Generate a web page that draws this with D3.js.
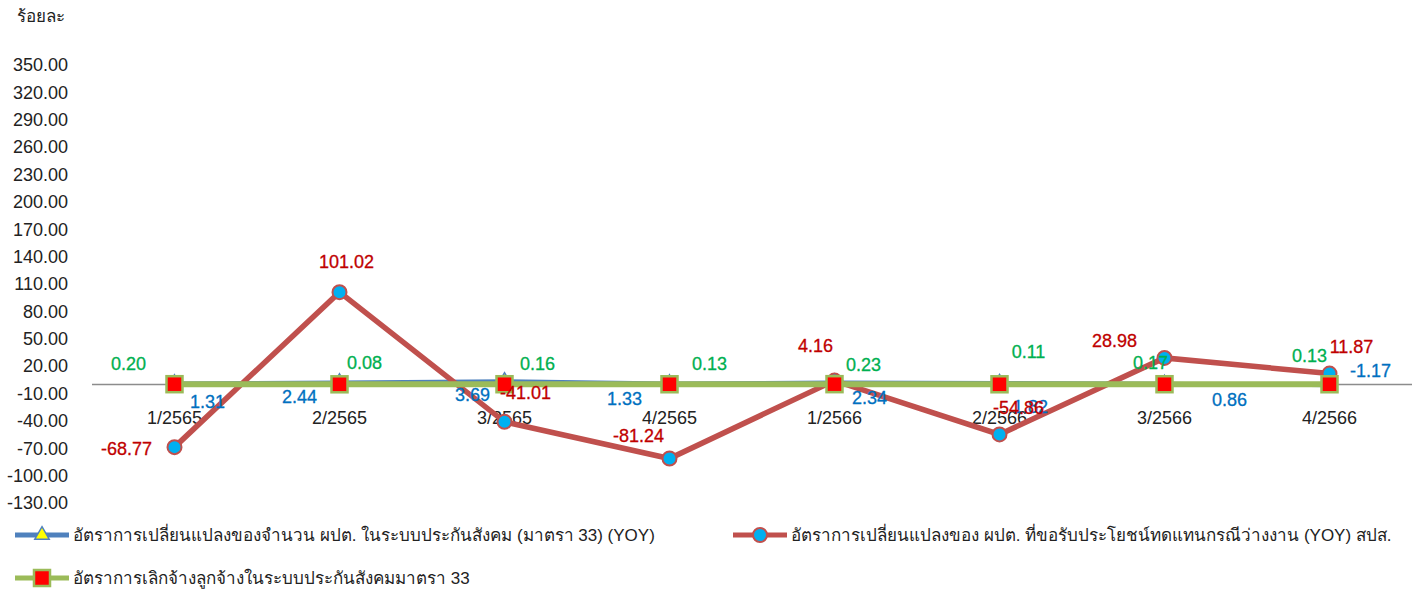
<!DOCTYPE html>
<html>
<head>
<meta charset="utf-8">
<script src="https://cdn.jsdelivr.net/npm/d3@7"></script>
<style>
  body { margin: 0; background: #fff; }
  svg { font-family: "Liberation Sans", "Noto Sans", sans-serif; }
</style>
</head>
<body>
<svg id="chart" width="1417" height="591"></svg>
<script>
// quarters
var categories = ["1/2565", "2/2565", "3/2565", "4/2565", "1/2566", "2/2566", "3/2566", "4/2566"];
// employment in SSO (section 33) YOY
var employed = [1.31, 2.44, 3.69, 1.33, 2.34, 1.82, 0.86, -1.17];
// unemployment benefit claimants YOY
var claimants = [-68.77, 101.02, -41.01, -81.24, 4.16, -54.86, 28.98, 11.87];
// lay-off rate, section 33
var layoffs = [0.20, 0.08, 0.16, 0.13, 0.23, 0.11, 0.17, 0.13];
var yTicks = [350, 320, 290, 260, 230, 200, 170, 140, 110, 80, 50, 20, -10, -40, -70, -100, -130];

var seriesNames = [
    "อัตราการเปลี่ยนแปลงของจำนวน ผปต. ในระบบประกันสังคม (มาตรา 33) (YOY)",
    "อัตราการเปลี่ยนแปลงของ ผปต. ที่ขอรับประโยชน์ทดแทนกรณีว่างงาน (YOY) สปส.",
    "อัตราการเลิกจ้างลูกจ้างในระบบประกันสังคมมาตรา 33"
];

// label offsets (dx, dy) relative to each point, as placed in the original
var employedOff = [[33, 19], [-40, 15], [-32, 14], [-45, 16], [35, 15], [31, 24], [65, 16], [41, -15]];
var claimantsOff = [[-48, 2], [7, -30], [21, -29], [-31, -23], [-19, -35], [19, -27], [-50, -17], [22, -27]];
var layoffsOff = [[-46, -20], [25, -22], [33, -21], [40, -21], [29, -19], [29, -33], [-14, -22], [-20, -29]];

var svg = d3.select("#chart");

var x = d3.scaleBand().domain(categories).range([92, 1412]);
var y = d3.scaleLinear().domain([-130, 350]).range([503, 65]);
var cx = function (i) { return x(categories[i]) + x.bandwidth() / 2; };

// y tick labels
svg.append("g").selectAll("text")
    .data(yTicks)
    .enter().append("text")
    .attr("x", 68)
    .attr("y", function (d) { return y(d); })
    .attr("dy", "0.35em")
    .attr("text-anchor", "end")
    .attr("font-size", 18)
    .attr("fill", "#222")
    .text(function (d) { return d.toFixed(2); });

svg.append("text")
    .attr("x", 17).attr("y", 22)
    .attr("font-size", 17).attr("fill", "#222")
    .text("ร้อยละ");

// zero line
svg.append("line")
    .attr("x1", 92).attr("x2", 1412)
    .attr("y1", y(0)).attr("y2", y(0))
    .attr("stroke", "#8c8c8c").attr("stroke-width", 1.5);

// category labels
svg.append("g").selectAll("text")
    .data(categories)
    .enter().append("text")
    .attr("x", function (d, i) { return cx(i); })
    .attr("y", y(0) + 40)
    .attr("text-anchor", "middle")
    .attr("font-size", 18)
    .attr("fill", "#222")
    .text(function (d) { return d; });

var line = d3.line()
    .x(function (d, i) { return cx(i); })
    .y(function (d) { return y(d); });

var tri = d3.symbol().type(d3.symbolTriangle).size(90);

// blue series
svg.append("path").datum(employed)
    .attr("d", line).attr("fill", "none")
    .attr("stroke", "#4f81bd").attr("stroke-width", 3.5);
svg.append("g").selectAll("path")
    .data(employed)
    .enter().append("path")
    .attr("d", tri)
    .attr("transform", function (d, i) { return "translate(" + cx(i) + "," + y(d) + ")"; })
    .attr("fill", "#ffff00").attr("stroke", "#4f81bd").attr("stroke-width", 1.5);

// red series
svg.append("path").datum(claimants)
    .attr("d", line).attr("fill", "none")
    .attr("stroke", "#c0504d").attr("stroke-width", 5.5);
svg.append("g").selectAll("circle")
    .data(claimants)
    .enter().append("circle")
    .attr("cx", function (d, i) { return cx(i); })
    .attr("cy", function (d) { return y(d); })
    .attr("r", 7)
    .attr("fill", "#00b0f0").attr("stroke", "#c0504d").attr("stroke-width", 2);

// green series
svg.append("path").datum(layoffs)
    .attr("d", line).attr("fill", "none")
    .attr("stroke", "#9bbb59").attr("stroke-width", 6);
svg.append("g").selectAll("rect")
    .data(layoffs)
    .enter().append("rect")
    .attr("x", function (d, i) { return cx(i) - 8; })
    .attr("y", function (d) { return y(d) - 8; })
    .attr("width", 16).attr("height", 16)
    .attr("fill", "#ff0000").attr("stroke", "#9bbb59").attr("stroke-width", 2.5);

// data labels
function labels(data, off, color) {
    svg.append("g").selectAll("text")
        .data(data)
        .enter().append("text")
        .attr("x", function (d, i) { return cx(i) + off[i][0]; })
        .attr("y", function (d, i) { return y(d) + off[i][1]; })
        .attr("dy", "0.35em")
        .attr("text-anchor", "middle")
        .attr("font-size", 18)
        .attr("fill", color)
        .attr("stroke", color)
        .attr("stroke-width", 0.3)
        .text(function (d) { return d.toFixed(2); });
}
labels(employed, employedOff, "#0070c0");
labels(claimants, claimantsOff, "#c00000");
labels(layoffs, layoffsOff, "#00b050");

// legend
var legend = [
    { name: seriesNames[0], x: 15, y: 535, color: "#4f81bd", mark: "tri" },
    { name: seriesNames[1], x: 733, y: 535, color: "#c0504d", mark: "circle" },
    { name: seriesNames[2], x: 15, y: 578, color: "#9bbb59", mark: "rect" }
];
var lg = svg.append("g").selectAll("g")
    .data(legend)
    .enter().append("g")
    .attr("transform", function (d) { return "translate(" + d.x + "," + d.y + ")"; });
lg.append("line")
    .attr("x1", 0).attr("x2", 54)
    .attr("stroke", function (d) { return d.color; })
    .attr("stroke-width", 5);
lg.each(function (d) {
    var g = d3.select(this);
    if (d.mark === "tri") {
        g.append("path").attr("d", tri).attr("transform", "translate(27,0)")
            .attr("fill", "#ffff00").attr("stroke", "#4f81bd").attr("stroke-width", 1.5);
    } else if (d.mark === "circle") {
        g.append("circle").attr("cx", 27).attr("r", 7)
            .attr("fill", "#00b0f0").attr("stroke", "#c0504d").attr("stroke-width", 2);
    } else {
        g.append("rect").attr("x", 19).attr("y", -8).attr("width", 16).attr("height", 16)
            .attr("fill", "#ff0000").attr("stroke", "#9bbb59").attr("stroke-width", 2.5);
    }
});
lg.append("text")
    .attr("x", 58).attr("dy", "0.35em")
    .attr("font-size", 17).attr("fill", "#222")
    .text(function (d) { return d.name; });
</script>
</body>
</html>
